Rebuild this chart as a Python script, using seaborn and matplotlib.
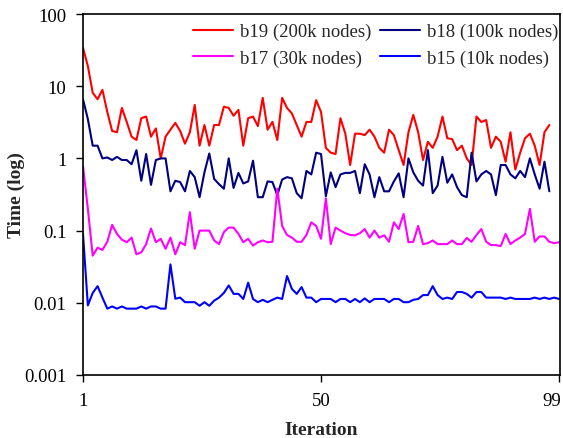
import matplotlib
matplotlib.use("Agg")
import matplotlib.pyplot as plt
import matplotlib.transforms as mtransforms
import pandas as pd
import seaborn as sns
from matplotlib.ticker import FixedLocator, FixedFormatter, NullLocator

# ---- data ----
b19 = [34, 19, 8.1, 6.6, 8.9, 4.4, 2.4, 2.3, 5.0, 3.2, 2.0, 1.8, 3.6, 3.8, 2.0, 2.6, 1.0, 2.0, 2.5, 3.1,
       2.4, 1.6, 2.3, 5.5, 1.5, 2.9, 1.5, 2.9, 2.9, 5.2, 5.0, 3.9, 4.7, 1.5, 3.6, 3.8, 2.8, 6.9, 2.5, 3.2,
       1.8, 6.9, 5.0, 4.2, 2.9, 2.0, 3.2, 3.2, 6.4, 4.4, 1.4, 1.2, 1.15, 3.6, 2.2, 0.81, 2.2, 2.2, 2.1, 2.5,
       2.0, 1.4, 1.2, 2.5, 2.1, 1.3, 0.81, 2.3, 4.0, 2.3, 0.95, 1.7, 1.4, 2.0, 3.8, 1.9, 1.85, 1.3, 1.5, 1.0,
       0.81, 3.8, 3.2, 3.4, 1.4, 2.0, 1.7, 0.9, 2.3, 0.7, 1.2, 1.9, 2.2, 1.5, 0.81, 2.3, 2.9]
b18 = [6.6, 3.5, 1.5, 1.5, 1.0, 1.03, 0.95, 1.05, 0.95, 0.95, 0.83, 1.3, 0.49, 1.15, 0.43, 0.95, 1.0, 1.0, 0.35, 0.49,
       0.47, 0.35, 0.67, 0.55, 0.29, 0.64, 1.17, 0.52, 0.44, 0.38, 1.0, 0.39, 0.63, 0.45, 0.48, 0.93, 0.29, 0.29, 0.48, 0.47,
       0.31, 0.51, 0.55, 0.53, 0.33, 0.28, 0.67, 0.6, 1.2, 1.15, 0.3, 0.64, 0.4, 0.6, 0.63, 0.63, 0.67, 0.33, 0.83, 0.6,
       0.29, 0.55, 0.35, 0.35, 0.48, 0.62, 0.29, 1.0, 0.64, 0.49, 0.42, 1.3, 0.33, 0.42, 1.05, 0.46, 0.6, 0.4, 0.31, 0.29,
       1.2, 0.48, 0.6, 0.67, 0.6, 0.31, 0.81, 0.81, 0.6, 0.53, 0.67, 0.55, 1.0, 0.6, 0.38, 0.9, 0.35]
b17 = [0.78, 0.2, 0.045, 0.058, 0.054, 0.07, 0.12, 0.09, 0.075, 0.069, 0.08, 0.047, 0.05, 0.065, 0.107, 0.069, 0.077, 0.056, 0.08, 0.047,
       0.069, 0.063, 0.18, 0.056, 0.10, 0.10, 0.10, 0.073, 0.065, 0.095, 0.11, 0.11, 0.09, 0.069, 0.077, 0.062, 0.069, 0.073, 0.069, 0.07,
       0.38, 0.116, 0.087, 0.08, 0.07, 0.07, 0.087, 0.13, 0.116, 0.077, 0.28, 0.065, 0.11, 0.10, 0.092, 0.087, 0.086, 0.092, 0.105, 0.08,
       0.10, 0.08, 0.086, 0.07, 0.13, 0.105, 0.17, 0.069, 0.07, 0.116, 0.065, 0.067, 0.073, 0.065, 0.065, 0.065, 0.073, 0.065, 0.065, 0.079,
       0.07, 0.087, 0.105, 0.07, 0.063, 0.063, 0.061, 0.09, 0.065, 0.073, 0.08, 0.09, 0.2, 0.07, 0.083, 0.083, 0.07, 0.067, 0.069]
b15 = [0.09, 0.0092, 0.0137, 0.017, 0.0118, 0.0083, 0.0089, 0.0083, 0.0089, 0.0083, 0.0083, 0.0083, 0.0089, 0.0083, 0.0089, 0.0089, 0.0083, 0.0083, 0.034, 0.0114,
       0.0118, 0.0102, 0.0102, 0.0102, 0.0091, 0.0102, 0.0091, 0.0107, 0.0118, 0.0137, 0.0174, 0.0133, 0.0133, 0.0113, 0.019, 0.0113, 0.0102, 0.011, 0.0102, 0.011,
       0.0118, 0.0113, 0.0235, 0.0156, 0.0133, 0.0165, 0.0118, 0.0118, 0.0102, 0.0113, 0.0113, 0.0113, 0.0102, 0.0113, 0.0113, 0.0102, 0.0113, 0.0102, 0.0115, 0.0102,
       0.0113, 0.0113, 0.0113, 0.0102, 0.0113, 0.0113, 0.0102, 0.0102, 0.011, 0.0113, 0.0128, 0.0128, 0.017, 0.0128, 0.0113, 0.0118, 0.0113, 0.0141, 0.0141, 0.0133,
       0.0118, 0.0141, 0.0141, 0.0118, 0.0118, 0.0118, 0.0118, 0.0113, 0.0118, 0.0113, 0.0113, 0.0113, 0.0113, 0.0118, 0.0113, 0.0118, 0.0113, 0.0118, 0.0113]

series_names = ["b19 (200k nodes)", "b18 (100k nodes)", "b17 (30k nodes)", "b15 (10k nodes)"]
series_colors = ["#FF0000", "#000080", "#FF00FF", "#0000FF"]
y_ticks = [0.001, 0.01, 0.1, 1, 10, 100]
y_tick_labels = ["0.001", "0.01", "0.1", "1", "10", "100"]
x_ticks = [1, 50, 99]
x_tick_labels = ["1", "50", "99"]

rows = []
for name, vals in zip(series_names, [b19, b18, b17, b15]):
    for i, v in enumerate(vals, start=1):
        rows.append((name, i, v))
df = pd.DataFrame(rows, columns=["series", "Iteration", "Time"])

sns.set_style("ticks")
plt.rcParams["font.family"] = ["Liberation Serif", "DejaVu Serif"]

W, H = 563, 439
fig = plt.figure(figsize=(W / 100, H / 100), dpi=100)
ax = fig.add_axes([83 / W, 1 - 376 / H, (560 - 83) / W, (376 - 15) / H])

sns.lineplot(data=df, x="Iteration", y="Time", hue="series", hue_order=series_names,
             palette=series_colors, linewidth=1.5, estimator=None, sort=False,
             legend=False, ax=ax)

ax.set_yscale("log")
ax.set_ylim(0.001, 100)
ax.set_xlim(1, 99.2)
ax.yaxis.set_major_locator(FixedLocator(y_ticks))
ax.yaxis.set_major_formatter(FixedFormatter(y_tick_labels))
ax.yaxis.set_minor_locator(NullLocator())
ax.xaxis.set_major_locator(FixedLocator(x_ticks))
ax.xaxis.set_major_formatter(FixedFormatter(x_tick_labels))
ax.xaxis.set_minor_locator(NullLocator())

for s in ax.spines.values():
    s.set_visible(True)
    s.set_color("black")
    s.set_linewidth(1.2)
ax.tick_params(axis="both", direction="out", length=5, width=1.0, colors="black",
               labelsize=13.5, pad=7)

# keep the last x tick label inside the figure (as the reference does)
last = ax.get_xticklabels()[-1]
last.set_transform(last.get_transform() +
                   mtransforms.ScaledTranslation(-7 / 100, 0, fig.dpi_scale_trans))

ax.set_xlabel("Iteration", fontsize=14, fontweight="bold", labelpad=9)
ax.set_ylabel("Time (log)", fontsize=14, fontweight="bold", labelpad=-1)

lines = ax.get_lines()
handles = [lines[0], lines[2], lines[1], lines[3]]
labels = [series_names[0], series_names[2], series_names[1], series_names[3]]
ax.legend(handles, labels, ncol=2, loc="upper left",
          bbox_to_anchor=(193 / W, 1 - 24 / H), bbox_transform=fig.transFigure,
          frameon=False, fontsize=13.5, handlelength=2.13, handletextpad=0.37,
          columnspacing=0.45, labelspacing=0.48, borderpad=0, borderaxespad=0)

fig.savefig("out.png", dpi=100)
